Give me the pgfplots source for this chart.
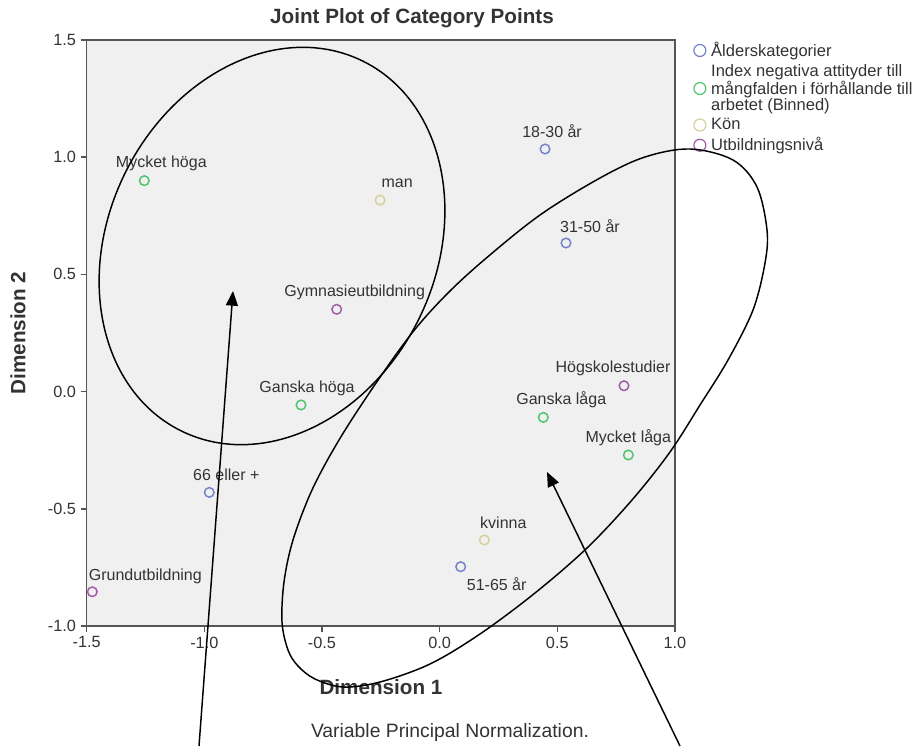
\documentclass[border=0pt]{standalone}
\usepackage{fontspec}
\setmainfont{Liberation Sans}
\usepackage{pgfplots}
\pgfplotsset{compat=1.18}
\usetikzlibrary{arrows.meta}

\definecolor{catBlue}{HTML}{7382C9}
\definecolor{catGreen}{HTML}{4EC46C}
\definecolor{catTan}{HTML}{D6D09C}
\definecolor{catPurple}{HTML}{A15CA5}
\definecolor{panelGray}{HTML}{F0F0F0}
\definecolor{frameGray}{HTML}{555555}
\definecolor{labelGray}{HTML}{333333}

\pgfplotsset{
  catpoint/.style={only marks, mark=o, mark size=3.6pt, line width=1.1pt},
}
\tikzset{
  ptlabel/.style={font=\fontsize{12}{14}\selectfont, text=labelGray, inner sep=0pt},
}

\begin{document}
\begin{tikzpicture}
\path[use as bounding box] (0,0) rectangle (687pt,559.5pt);
\begin{axis}[
  scale only axis, at={(65pt,90pt)}, anchor=south west,
  width=441.2pt, height=439.5pt,
  xmin=-1.5, xmax=1.0, ymin=-1.0, ymax=1.5,
  xtick={-1.5,-1,-0.5,0,0.5,1}, ytick={-1,-0.5,0,0.5,1,1.5},
  xtick pos=left, ytick pos=left,
  tick align=outside, major tick length=4.5pt,
  tick style={frameGray, line width=1.1pt},
  axis line style={frameGray, line width=1.1pt},
  axis background/.style={fill=panelGray},
  tick label style={font=\fontsize{12.2}{14}\selectfont, text=labelGray},
  /pgf/number format/assume math mode=true,
  /pgf/number format/fixed, /pgf/number format/fixed zerofill,
  /pgf/number format/precision=1,
  clip=false,
  legend style={at={(axis description cs:1,1)}, anchor=north west,
    xshift=14pt, yshift=0pt, draw=none, fill=none, inner sep=0pt,
    row sep=1.4pt, font=\fontsize{12.4}{11.9}\selectfont, text=labelGray,
    cells={anchor=west}, nodes={inner sep=1.5pt, align=left},
    /tikz/every odd column/.append style={column sep=2.5pt}},
  legend image code/.code={
    \draw[#1, mark size=4.5pt, line width=0.9pt] plot coordinates {(0pt,0pt)};
    \path[draw=none, fill=none] (-4.5pt,-4.5pt) rectangle (4.5pt,4.5pt);},
]
% Ålderskategorier
\addplot[catpoint, catBlue] coordinates {
  (0.448,1.035) (0.537,0.634) (0.0895,-0.747) (-0.979,-0.430)};
\addlegendentry{Ålderskategorier}
% Index negativa attityder (Binned)
\addplot[catpoint, catGreen] coordinates {
  (-1.255,0.900) (-0.589,-0.057) (0.4405,-0.110) (0.802,-0.2705)};
\addlegendentry{Index negativa attityder till\\mångfalden i förhållande till\\arbetet (Binned)}
% Kön
\addplot[catpoint, catTan] coordinates {
  (-0.253,0.817) (0.190,-0.633)};
\addlegendentry{Kön}
% Utbildningsnivå
\addplot[catpoint, catPurple] coordinates {
  (-0.4375,0.351) (0.7835,0.025) (-1.476,-0.854)};
\addlegendentry{Utbildningsnivå}

\node[ptlabel, xshift=5.25pt, yshift=13.5pt] at (axis cs:0.448,1.035) {18-30 år};
\node[ptlabel, xshift=18pt, yshift=12.75pt] at (axis cs:0.537,0.634) {31-50 år};
\node[ptlabel, xshift=27pt, yshift=-12.75pt] at (axis cs:0.0895,-0.747) {51-65 år};
\node[ptlabel, xshift=12.75pt, yshift=13.5pt] at (axis cs:-0.979,-0.430) {66 eller +};
\node[ptlabel, xshift=12.75pt, yshift=12.75pt] at (axis cs:-1.255,0.900) {Mycket höga};
\node[ptlabel, xshift=4.5pt, yshift=12.75pt] at (axis cs:-0.589,-0.057) {Ganska höga};
\node[ptlabel, xshift=13.5pt, yshift=13.5pt] at (axis cs:0.4405,-0.110) {Ganska låga};
\node[ptlabel, xshift=0pt, yshift=12.75pt] at (axis cs:0.802,-0.2705) {Mycket låga};
\node[ptlabel, xshift=12.75pt, yshift=12.75pt] at (axis cs:-0.253,0.817) {man};
\node[ptlabel, xshift=14.25pt, yshift=12.75pt] at (axis cs:0.190,-0.633) {kvinna};
\node[ptlabel, xshift=13.5pt, yshift=12.75pt] at (axis cs:-0.4375,0.351) {Gymnasieutbildning};
\node[ptlabel, xshift=-8.25pt, yshift=12.75pt] at (axis cs:0.7835,0.025) {Högskolestudier};
\node[ptlabel, xshift=39.75pt, yshift=11.25pt] at (axis cs:-1.476,-0.854) {Grundutbildning};
\end{axis}

% titles and notes
\node[font=\fontsize{15.5}{18}\selectfont\bfseries, text=labelGray] at (309pt,546pt) {Joint Plot of Category Points};
\node[font=\fontsize{15.5}{18}\selectfont\bfseries, text=labelGray] at (285.75pt,44.25pt) {Dimension 1};
\node[font=\fontsize{15.5}{18}\selectfont\bfseries, text=labelGray, rotate=90] at (13.5pt,309.75pt) {Dimension 2};
\node[font=\fontsize{14.5}{17}\selectfont, text=labelGray] at (337.5pt,10.5pt) {Variable Principal Normalization.};

% hand-drawn annotations, in screen pixels of the original (y downwards)
\begin{scope}[x=0.75pt, y=-0.75pt, shift={(0pt,559.5pt)}, line width=1.1pt]
\draw[rotate around={64:(272,246)}] (272,246) ellipse [x radius=206, y radius=164];
\draw plot[smooth cycle, tension=0.55] coordinates {
  (690,149) (733,160) (757,187) (767,230) (765,263) (753,310) (728,360)
  (700,405) (670,452) (632,500) (587,548) (535,593) (480,634) (430,664)
  (380,682) (343,687) (315,679) (298,666) (288,650) (282,622) (284,582)
  (293,540) (312,490) (339,440) (374,386) (412,333) (446,295) (484,260)
  (540,215) (600,178) (645,157)};
\draw[-{Triangle[length=11pt,width=9pt]}] (199,746) -- (233,291);
\draw[-{Triangle[length=11pt,width=9pt]}] (680,746) -- (547,472);
\end{scope}
\end{tikzpicture}
\end{document}
